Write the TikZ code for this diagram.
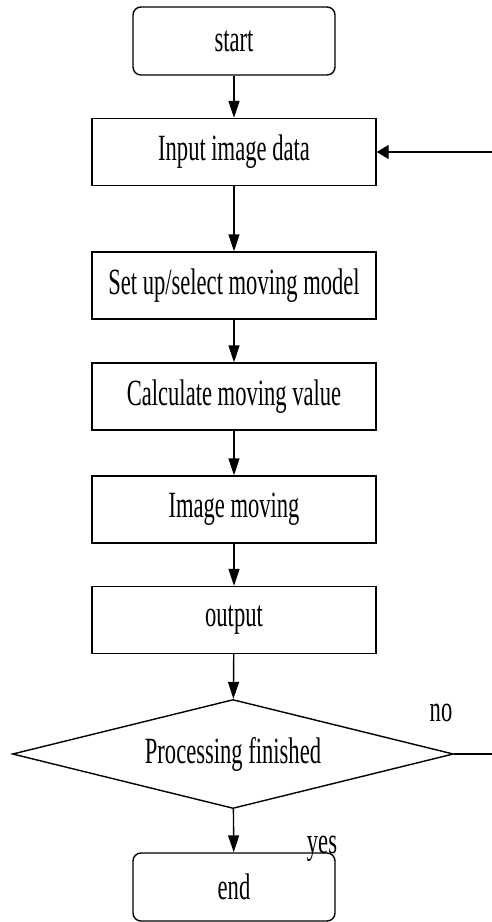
\documentclass[tikz,border=0pt]{standalone}
\usepackage{fontspec}
\usepackage{graphicx}
\setmainfont{Liberation Serif}
\usetikzlibrary{arrows.meta,shapes.geometric}
\newcommand\sqz[1]{\scalebox{0.61}[1]{#1}}
\begin{document}
\begin{tikzpicture}[x=1pt,y=-1pt,
  every node/.style={font=\fontsize{37}{40}\selectfont, inner sep=0pt},
  box/.style={draw, line width=1.4pt, rectangle, minimum width=284pt, minimum height=67pt},
  term/.style={draw, line width=1.4pt, rectangle, rounded corners=8pt, minimum width=202pt, minimum height=68pt},
  dec/.style={draw, line width=1.4pt, diamond, aspect=4, minimum width=441pt, minimum height=109pt},
  flow/.style={line width=1.4pt, -{Triangle[length=17pt,width=11pt]}},
  side/.style={line width=1.4pt, -{Triangle[length=12pt,width=14pt]}},
  plain/.style={line width=1.4pt}]
\useasboundingbox (0,0) rectangle (492,922);
\node[term] (start) at (234,41) {\sqz{start}};
\node[box] (input) at (234,152) {\sqz{Input image data}};
\node[box] (setup) at (234,285.5) {\sqz{Set up/select moving model}};
\node[box] (calc) at (234,396.5) {\sqz{Calculate moving value}};
\node[box] (move) at (234,509.5) {\sqz{Image moving}};
\node[box] (out) at (234,620) {\sqz{output}};
\node[dec] (fin) at (233,754) {\sqz{Processing finished}};
\node[term] (end) at (234,887) {\sqz{end}};
\node (no) at (441,713) {\sqz{no}};
\node (yes) at (322,849) {\sqz{yes}};
\coordinate (rin) at (492,152);
\coordinate (rout) at (492,754);
\draw[flow] (start) -- (input);
\draw[flow] (input) -- (setup);
\draw[flow] (setup) -- (calc);
\draw[flow] (calc) -- (move);
\draw[flow] (move) -- (out);
\draw[flow] (out) -- (fin);
\draw[flow] (fin) -- (end);
\draw[plain] (fin.east) -- (rout);
\draw[side] (rin) -- (input.east);
\end{tikzpicture}
\end{document}
